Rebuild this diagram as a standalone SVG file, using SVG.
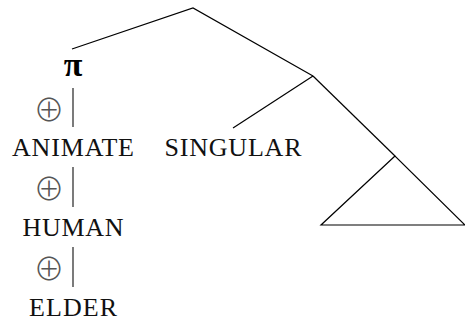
<svg xmlns="http://www.w3.org/2000/svg" width="465" height="325" viewBox="0 0 465 325">
<style>
.lbl{font-family:'Liberation Serif','Times New Roman',serif;font-size:26px;fill:#111;text-anchor:middle}
.pi{font-family:'Liberation Serif','Times New Roman',serif;font-size:34px;font-weight:bold;fill:#000;text-anchor:middle}
.op{font-family:'Noto Sans CJK JP','DejaVu Sans',sans-serif;font-size:31px;font-weight:300;fill:#555;text-anchor:middle}
.edge{stroke:#000;stroke-width:1.2;fill:none}
.vbar{stroke:#333;stroke-width:1.3;fill:none}
</style>
<rect width="465" height="325" fill="#fff"/>
<g id="connectors">
<polyline class="edge" points="72,49 193,8 313,76"/>
<line class="edge" x1="313" y1="76" x2="233" y2="128"/>
<line class="edge" x1="313" y1="76" x2="395" y2="156"/>
<polygon class="edge" points="395,156 321,225 465,225"/>
<line class="vbar" x1="73" y1="88" x2="73" y2="127"/>
<line class="vbar" x1="73" y1="167" x2="73" y2="207"/>
<line class="vbar" x1="73" y1="247" x2="73" y2="287"/>
</g>
<g id="node-pi"><text class="pi" x="73" y="76">π</text></g>
<g id="op-1"><text class="op" x="49" y="121">⊕</text></g>
<g id="node-animate"><text class="lbl" x="73" y="156" textLength="122" lengthAdjust="spacing">ANIMATE</text></g>
<g id="op-2"><text class="op" x="49" y="200">⊕</text></g>
<g id="node-human"><text class="lbl" x="73" y="236" textLength="101" lengthAdjust="spacing">HUMAN</text></g>
<g id="op-3"><text class="op" x="49" y="280">⊕</text></g>
<g id="node-elder"><text class="lbl" x="73" y="316" textLength="88" lengthAdjust="spacing">ELDER</text></g>
<g id="node-singular"><text class="lbl" x="233" y="156" textLength="137" lengthAdjust="spacing">SINGULAR</text></g>
</svg>
